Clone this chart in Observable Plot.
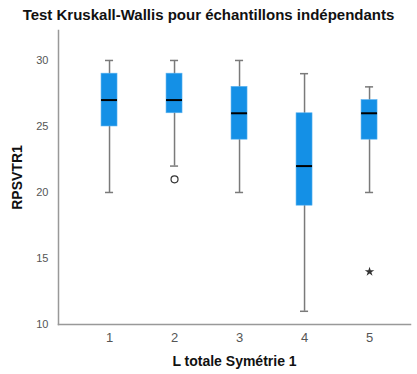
<!DOCTYPE html>
<html><head><meta charset="utf-8">
<script src="https://cdn.jsdelivr.net/npm/d3@7"></script>
<script src="https://cdn.jsdelivr.net/npm/@observablehq/plot@0.6"></script>
<style>
body{margin:0;background:#fff;font-family:"Liberation Sans",Arial,sans-serif;}
#title{height:28px;line-height:30px;text-align:center;font-weight:bold;font-size:15px;color:#111;white-space:nowrap;}
</style></head>
<body>
<div id="title">Test Kruskall-Wallis pour échantillons indépendants</div>
<div id="chart"></div>
<script>
const categories = [1, 2, 3, 4, 5];
const whiskerLow = [20, 22, 20, 11, 20];
const q1 = [25, 26, 24, 19, 24];
const median = [27, 27, 26, 22, 26];
const q3 = [29, 29, 28, 26, 27];
const whiskerHigh = [30, 30, 30, 29, 28];
const outliers = [{cat: 2, v: 21}];
const extremes = [{cat: 5, v: 14}];
const yTicks = [10, 15, 20, 25, 30];

const boxes = categories.map((c, i) => ({cat: c, lo: whiskerLow[i], q1: q1[i], med: median[i], q3: q3[i], hi: whiskerHigh[i]}));
const bw = 0.123, cw = 0.062;

const plot = Plot.plot({
  width: 417, height: 346,
  marginLeft: 58, marginRight: 7, marginTop: 2, marginBottom: 50,
  style: {fontFamily: "Liberation Sans, Arial, sans-serif", background: "#fff"},
  x: {type: "linear", domain: [0.215, 5.63]},
  y: {domain: [10, 32.27]},
  marks: [
    Plot.ruleX(boxes, {x: "cat", y1: "lo", y2: "hi", stroke: "#7a7a7a", strokeWidth: 1.5}),
    Plot.ruleY(boxes, {y: "lo", x1: d => d.cat - cw, x2: d => d.cat + cw, stroke: "#7a7a7a", strokeWidth: 1.5}),
    Plot.ruleY(boxes, {y: "hi", x1: d => d.cat - cw, x2: d => d.cat + cw, stroke: "#7a7a7a", strokeWidth: 1.5}),
    Plot.rect(boxes, {x1: d => d.cat - bw, x2: d => d.cat + bw, y1: "q1", y2: "q3", fill: "#1490e6", stroke: "#5db3f0", strokeWidth: 0.6}),
    Plot.ruleY(boxes, {y: "med", x1: d => d.cat - bw, x2: d => d.cat + bw, stroke: "#000", strokeWidth: 2}),
    Plot.dot(outliers, {x: "cat", y: "v", r: 3.5, stroke: "#333", fill: "#fff", strokeWidth: 1.2}),
    Plot.dot(extremes, {x: "cat", y: "v", symbol: "star", r: 3, fill: "#333", stroke: "none"}),
    Plot.axisY({ticks: yTicks, tickSize: 0, tickPadding: 10, fontSize: 11, color: "#555",
      label: "RPSVTR1", labelAnchor: "center", labelArrow: false, labelOffset: 46}),
    Plot.axisX({ticks: categories, tickSize: 0, tickPadding: 8, fontSize: 13, color: "#555", tickFormat: d => String(d),
      label: "L totale Symétrie 1", labelAnchor: "center", labelArrow: false, labelOffset: 41}),
    Plot.frame({anchor: "left", stroke: "#999", strokeWidth: 1.5}),
    Plot.frame({anchor: "bottom", stroke: "#999", strokeWidth: 1.5})
  ]
});
document.getElementById("chart").appendChild(plot);
plot.querySelectorAll("g[aria-label='y-axis label'] text, g[aria-label='x-axis label'] text").forEach(t => {
  t.setAttribute("font-weight", "bold"); t.setAttribute("font-size", "14"); t.setAttribute("fill", "#111");
});
</script>
</body></html>
